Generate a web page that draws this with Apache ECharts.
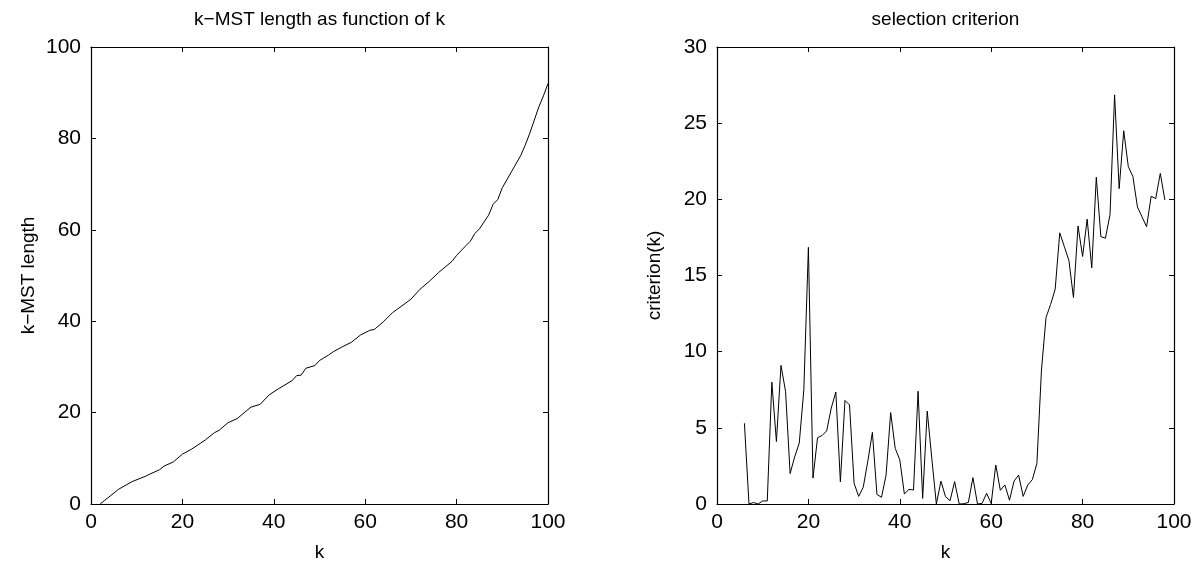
<!DOCTYPE html>
<html>
<head>
<meta charset="utf-8">
<script src="https://cdn.jsdelivr.net/npm/echarts@6/dist/echarts.min.js"></script>
<style>
  html, body { margin: 0; padding: 0; background: #fff; }
  #chart { width: 1199px; height: 569px; }
</style>
</head>
<body>
<div id="chart"></div>
<script>
// left panel: k-MST length against k
var lenK = [2, 3, 6, 9, 12, 13, 15, 16, 18, 20, 22, 25, 27, 28, 30, 32, 35, 37, 39, 41, 44, 45, 46, 47, 49, 50,
            52, 53, 55, 57, 59, 61, 62, 64, 66, 67, 70, 72, 74, 76, 79, 80, 82, 83, 84, 85, 87, 88, 89, 90,
            92, 94, 95, 96, 97, 98, 99, 100];
var lenVal = [0, 0.8, 3.2, 4.9, 6.1, 6.6, 7.5, 8.3, 9.2, 10.9, 12.0, 14.0, 15.6, 16.1, 17.8, 18.7, 21.2, 21.8, 23.9, 25.2,
              27.0, 28.1, 28.2, 29.7, 30.3, 31.4, 32.6, 33.3, 34.4, 35.4, 37.0, 38.0, 38.2, 39.9, 41.9, 42.6, 44.8, 47.0,
              48.7, 50.6, 53.1, 54.4, 56.5, 57.5, 59.2, 60.2, 63.2, 65.6, 66.6, 69.2, 72.7, 76.2, 78.5, 81.1, 84.0,
              86.9, 89.3, 92.0];

// right panel: selection criterion, k = 6 .. 98
var critStart = 6;
var critVal = [5.3, 0, 0.1, 0, 0.2, 0.2, 8.0, 4.1, 9.1, 7.4,
               2.0, 3.1, 4.0, 7.5, 16.85, 1.7, 4.35, 4.5, 4.8, 6.3,
               7.35, 1.45, 6.8, 6.5, 1.36, 0.5, 1.1, 2.8, 4.7, 0.63,
               0.44, 1.9, 6.0, 3.65, 2.9, 0.66, 0.96, 0.92, 7.4, 0.37,
               6.1, 3.0, 0, 1.5, 0.48, 0.22, 1.47, 0, 0.02, 0.1,
               1.73, 0, 0.04, 0.7, 0.03, 2.56, 0.9, 1.25, 0.25, 1.5,
               1.9, 0.5, 1.25, 1.6, 2.66, 8.8, 12.25, 13.1, 14.1, 17.8,
               16.9, 16.0, 13.55, 18.25, 16.25, 18.7, 15.5, 21.45, 17.55, 17.45,
               19.0, 26.86, 20.7, 24.5, 22.15, 21.5, 19.5, 18.85, 18.2, 20.2,
               20.05, 21.7, 19.96];

var titles = ['k\u2212MST length as function of k', 'selection criterion'];
var yNames = ['k\u2212MST length', 'criterion(k)'];
var xName = 'k';

var font = 'Liberation Sans, Arial, Helvetica, sans-serif';

var lenData = lenK.map(function (k, i) { return [k, lenVal[i]]; });
var critData = critVal.map(function (v, i) { return [critStart + i, v]; });

var line = { color: '#000', width: 1.2 };
var tick = { show: true, inside: true, length: 5, lineStyle: { color: '#000', width: 1 } };
var label = { color: '#000', fontSize: 21, fontFamily: font };
var nameStyle = { color: '#000', fontSize: 19, fontFamily: font };

function bottomAxis(g) {
    return {
        type: 'value', gridIndex: g, position: 'bottom', min: 0, max: 100, interval: 20,
        name: xName, nameLocation: 'middle', nameGap: 39, nameTextStyle: nameStyle,
        axisLine: { show: true, onZero: false, lineStyle: line },
        axisTick: tick, axisLabel: Object.assign({ margin: 8 }, label),
        splitLine: { show: false }
    };
}
function topAxis(g, title) {
    return {
        type: 'value', gridIndex: g, position: 'top', min: 0, max: 100, interval: 20,
        name: title, nameLocation: 'middle', nameGap: 18, nameTextStyle: nameStyle,
        axisLine: { show: true, onZero: false, lineStyle: line },
        axisTick: tick, axisLabel: { show: false }, splitLine: { show: false }
    };
}
function leftAxis(g, max, step, name) {
    return {
        type: 'value', gridIndex: g, position: 'left', min: 0, max: max, interval: step,
        name: name, nameLocation: 'middle', nameGap: 53, nameTextStyle: nameStyle,
        axisLine: { show: true, onZero: false, lineStyle: line },
        axisTick: tick, axisLabel: Object.assign({ margin: 10 }, label),
        splitLine: { show: false }
    };
}
function rightAxis(g, max, step) {
    return {
        type: 'value', gridIndex: g, position: 'right', min: 0, max: max, interval: step,
        axisLine: { show: true, onZero: false, lineStyle: line },
        axisTick: tick, axisLabel: { show: false }, splitLine: { show: false }
    };
}

var myChart = echarts.init(document.getElementById('chart'), null, { renderer: 'canvas' });
var option = {
    backgroundColor: '#fff',
    animation: false,
    grid: [
        { left: 91, top: 47, width: 457, height: 457 },
        { left: 717, top: 47, width: 457, height: 457 }
    ],
    xAxis: [bottomAxis(0), topAxis(0, titles[0]), bottomAxis(1), topAxis(1, titles[1])],
    yAxis: [leftAxis(0, 100, 20, yNames[0]), rightAxis(0, 100, 20), leftAxis(1, 30, 5, yNames[1]), rightAxis(1, 30, 5)],
    series: [
        {
            type: 'line', xAxisIndex: 0, yAxisIndex: 0, data: lenData,
            showSymbol: false, lineStyle: { color: '#000', width: 1 }
        },
        {
            type: 'line', xAxisIndex: 2, yAxisIndex: 2, data: critData,
            showSymbol: false, lineStyle: { color: '#000', width: 1 }
        }
    ]
};
myChart.setOption(option);
</script>
</body>
</html>
